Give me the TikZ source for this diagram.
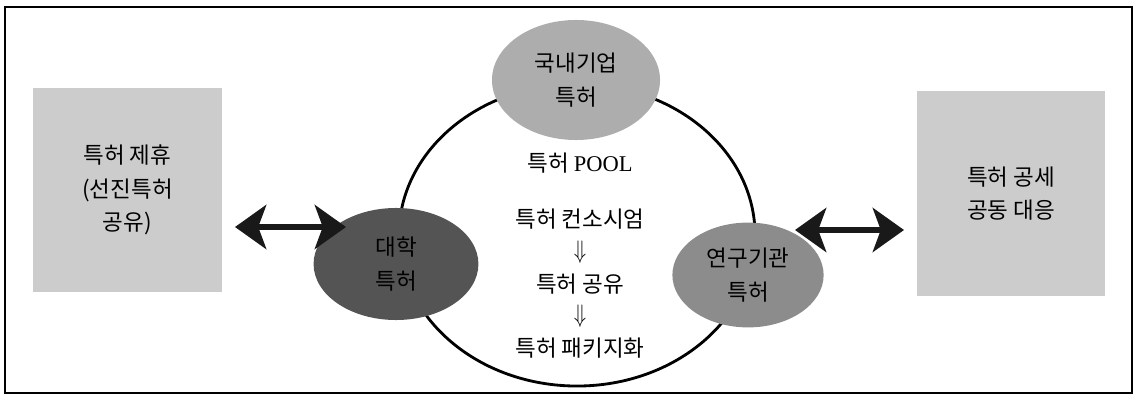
\documentclass[tikz,border=0pt]{standalone}
\usepackage{fontspec}
\setmainfont{Noto Sans CJK KR}
\newfontfamily\latinserif{Liberation Serif}
\usetikzlibrary{shapes.geometric,arrows.meta}
\definecolor{boxgray}{gray}{0.80}
\definecolor{domgray}{gray}{0.68}
\definecolor{instgray}{gray}{0.55}
\definecolor{univgray}{gray}{0.33}
\newcommand{\stepdown}{\scalebox{1}[1.25]{$\Downarrow$}}
\tikzset{
  label/.style={font=\fontsize{16}{24}\selectfont, align=center},
  poolstep/.style={label, inner sep=0pt},
  steparrow/.style={inner sep=0pt, font=\fontsize{14}{16}\selectfont},
  sidebox/.style={draw=none, fill=boxgray, minimum width=4.72cm, minimum height=5.1cm, label},
  owner/.style={ellipse, draw=none, label},
  dblarrow/.style={line width=4.5pt, draw=black!90,
    {Stealth[length=0.78cm, width=1.1cm, inset=0.2cm]}-{Stealth[length=0.78cm, width=1.1cm, inset=0.2cm]}}
}
\begin{document}
\begin{tikzpicture}[x=0.025cm, y=-0.025cm]
    \useasboundingbox (0,0) rectangle (1135,399);
    \draw [line width=0.8pt] (5,7) rectangle (1132,393);
    % pool
    \node [ellipse, draw, line width=2pt, minimum width=8.9cm, minimum height=7.55cm] (pool) at (577,235) {};
    % owners of patents
    \node [owner, fill=domgray, minimum width=4.2cm, minimum height=3cm] (dom) at (576,80) {국내기업\\특허};
    \node [owner, fill=univgray, minimum width=4.12cm, minimum height=2.8cm] (univ) at (396,264) {대학\\특허};
    \node [owner, fill=instgray, minimum width=3.78cm, minimum height=2.62cm] (inst) at (748,275) {연구기관\\특허};
    % side boxes
    \node [sidebox] (alliance) at (127.5,190) {특허 제휴\\(선진특허\\공유)};
    \node [sidebox] (offense) at (1011,193.5) {특허 공세\\공동 대응};
    % steps inside the pool
    \node [poolstep] (title) at (580,163) {특허 {\latinserif POOL}};
    \node [poolstep] (consort) at (580,219) {특허 컨소시엄};
    \node [steparrow] (down1) at (580,252) {\stepdown};
    \node [poolstep] (share) at (580,284) {특허 공유};
    \node [steparrow] (down2) at (580,316) {\stepdown};
    \node [poolstep] (package) at (580,348) {특허 패키지화};
    % arrows
    \coordinate (la) at (235,227);
    \coordinate (lb) at (346,227);
    \coordinate (ra) at (795,230);
    \coordinate (rb) at (904,230);
    \draw [dblarrow] (la) -- (lb);
    \draw [dblarrow] (ra) -- (rb);
\end{tikzpicture}
\end{document}
